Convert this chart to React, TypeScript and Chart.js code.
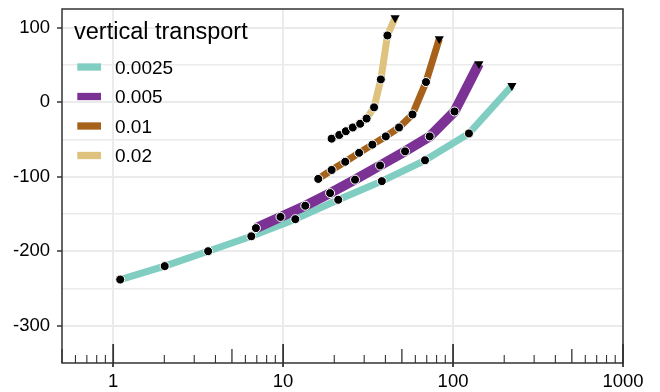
import { useEffect, useRef } from "react";
import { Chart, registerables } from "chart.js";

Chart.register(...registerables);

const FONT = "'Liberation Sans', Arial, Helvetica, sans-serif";

const legendTitle = "vertical transport";
const seriesLabels = ["0.0025", "0.005", "0.01", "0.02"];
const seriesColors = ["#80cdc1", "#7b3294", "#a6611a", "#dfc27d"];
const seriesWidths = [7, 10, 7, 7];

const x0025 = [1.1, 2.01, 3.62, 6.5, 11.8, 21.1, 38.1, 68.4, 124, 222];
const y0025 = [-238, -220, -200, -180, -157, -131, -106, -78, -42, 22];

const x005 = [6.92, 9.65, 13.5, 18.9, 26.5, 37.2, 52.2, 72.9, 102, 142];
const y005 = [-169, -154, -139, -122, -104, -85, -66, -46, -12.5, 51.5];

const x01 = [16.1, 19.3, 23.2, 28.0, 33.5, 40.2, 48.1, 57.7, 69.3, 83.0];
const y01 = [-103, -91, -80, -68, -57, -46, -34, -16.5, 27, 85];

const x02 = [19.3, 21.4, 23.4, 25.7, 28.4, 31.0, 34.3, 37.6, 41.1, 45.6];
const y02 = [-49, -44, -39, -34, -29, -22, -7, 30.5, 89.5, 113];

const seriesX = [x0025, x005, x01, x02];
const seriesY = [y0025, y005, y01, y02];

const xTickValues = [1, 10, 100, 1000];
const xTickLabels = ["1", "10", "100", "1000"];
const yGridValues = [-300, -250, -200, -150, -100, -50, 0, 50, 100];
const yTickLabels = ["-300", "-200", "-100", "0", "100"];

const X_MIN = 0.5;
const X_MAX = 1000;
const Y_MIN = -350;
const Y_MAX = 125;

function toPoints(xs: number[], ys: number[]) {
  return xs.map((x, i) => ({ x, y: ys[i] }));
}

const decorPlugin = {
  id: "decor",
  afterDraw(chart: any) {
    const { ctx, chartArea, scales } = chart;
    const xs = scales.x;
    ctx.save();
    ctx.strokeStyle = "#333333";
    for (let d = 0.1; d <= 1000; d *= 10) {
      for (let k = 1; k <= 9; k++) {
        const v = Math.round(k * d * 1000) / 1000;
        if (v < X_MIN - 1e-9 || v > X_MAX + 1e-9) continue;
        const px = xs.getPixelForValue(v);
        const len = k === 1 ? 19 : k === 5 ? 14 : 8;
        ctx.lineWidth = k === 1 ? 1.8 : k === 5 ? 1.3 : 1.1;
        ctx.beginPath();
        ctx.moveTo(px, chartArea.bottom);
        ctx.lineTo(px, chartArea.bottom - len);
        ctx.stroke();
      }
    }
    ctx.lineWidth = 1.5;
    ctx.strokeStyle = "#333333";
    ctx.strokeRect(
      chartArea.left,
      chartArea.top,
      chartArea.right - chartArea.left,
      chartArea.bottom - chartArea.top
    );
    ctx.fillStyle = "#000000";
    ctx.textAlign = "left";
    ctx.textBaseline = "alphabetic";
    ctx.font = `23.5px ${FONT}`;
    ctx.fillText(legendTitle, 74, 39);
    ctx.font = `19px ${FONT}`;
    seriesLabels.forEach((lab, i) => {
      const cy = 67 + i * 29.5;
      ctx.fillStyle = seriesColors[i];
      ctx.fillRect(77.3, cy - 3.65, 23.7, 7.3);
      ctx.fillStyle = "#000000";
      ctx.fillText(lab, 115, cy + 6.8);
    });
    ctx.restore();
  },
};

export default function App() {
  const ref = useRef<HTMLCanvasElement | null>(null);

  useEffect(() => {
    if (!ref.current) return;
    const lineSets = seriesLabels.map((lab, i) => ({
      label: lab,
      data: toPoints(seriesX[i], seriesY[i]),
      borderColor: seriesColors[i],
      backgroundColor: seriesColors[i],
      borderWidth: seriesWidths[i],
      borderJoinStyle: "round" as const,
      borderCapStyle: "butt" as const,
      pointRadius: 0,
      pointHoverRadius: 0,
      showLine: true,
      fill: false,
      tension: 0,
      order: 10 - i,
    }));
    const pointSets = seriesLabels.map((lab, i) => {
      const last = seriesX[i].length - 1;
      return {
        label: lab + " points",
        data: toPoints(seriesX[i], seriesY[i]),
        showLine: false,
        pointStyle: (c: any) => (c.dataIndex === last ? "triangle" : "circle"),
        rotation: (c: any) => (c.dataIndex === last ? 180 : 0),
        radius: (c: any) => (c.dataIndex === last ? 5.3 : 4.5),
        pointBackgroundColor: "#000000",
        pointBorderColor: (c: any) => (c.dataIndex === last ? "#000000" : "#ffffff"),
        pointBorderWidth: (c: any) => (c.dataIndex === last ? 0 : 1),
        order: 0,
      };
    });

    const chart = new Chart(ref.current, {
      type: "scatter",
      data: { datasets: [...lineSets, ...pointSets] as any },
      options: {
        animation: false,
        responsive: false,
        devicePixelRatio: 1,
        layout: { padding: { left: 0, top: 9, right: 37, bottom: 0 } },
        plugins: {
          legend: { display: false },
          tooltip: { enabled: false },
          title: { display: false },
        },
        scales: {
          x: {
            type: "logarithmic",
            min: X_MIN,
            max: X_MAX,
            afterBuildTicks: (s: any) => {
              s.ticks = xTickValues.map((v) => ({ value: v }));
            },
            afterFit: (s: any) => {
              s.height = 29;
              s.paddingLeft = 0;
              s.paddingRight = 0;
            },
            border: { display: false },
            grid: {
              color: "#ebebeb",
              lineWidth: 2,
              drawTicks: true,
              tickLength: 4,
              tickColor: "#333333",
              tickWidth: 1.8,
            },
            ticks: {
              autoSkip: false,
              maxRotation: 0,
              padding: 4,
              color: "#000000",
              font: { family: FONT, size: 18.5 },
              callback: (v: any) => {
                const idx = xTickValues.indexOf(Number(v));
                return idx >= 0 ? xTickLabels[idx] : "";
              },
            },
          },
          y: {
            type: "linear",
            min: Y_MIN,
            max: Y_MAX,
            afterBuildTicks: (s: any) => {
              s.ticks = yGridValues.map((v) => ({ value: v }));
            },
            afterFit: (s: any) => {
              s.width = 62;
              s.paddingTop = 0;
              s.paddingBottom = 0;
            },
            border: { display: false },
            grid: {
              color: "#ebebeb",
              lineWidth: (c: any) => (c.tick && c.tick.value % 100 === 0 ? 2 : 1.4),
              drawTicks: true,
              tickLength: 5,
              tickColor: (c: any) =>
                c.tick && c.tick.value % 100 === 0 ? "#333333" : "rgba(0,0,0,0)",
              tickWidth: 1.5,
            },
            ticks: {
              autoSkip: false,
              padding: 7,
              color: "#000000",
              font: { family: FONT, size: 18.5 },
              callback: (v: any) => {
                const s = String(v);
                return yTickLabels.includes(s) ? s : "";
              },
            },
          },
        },
      },
      plugins: [decorPlugin],
    });
    return () => chart.destroy();
  }, []);

  return (
    <div style={{ position: "absolute", left: 0, top: 0, width: 660, height: 392, background: "#ffffff" }}>
      <canvas ref={ref} width={660} height={392} style={{ display: "block", width: 660, height: 392 }} />
    </div>
  );
}
